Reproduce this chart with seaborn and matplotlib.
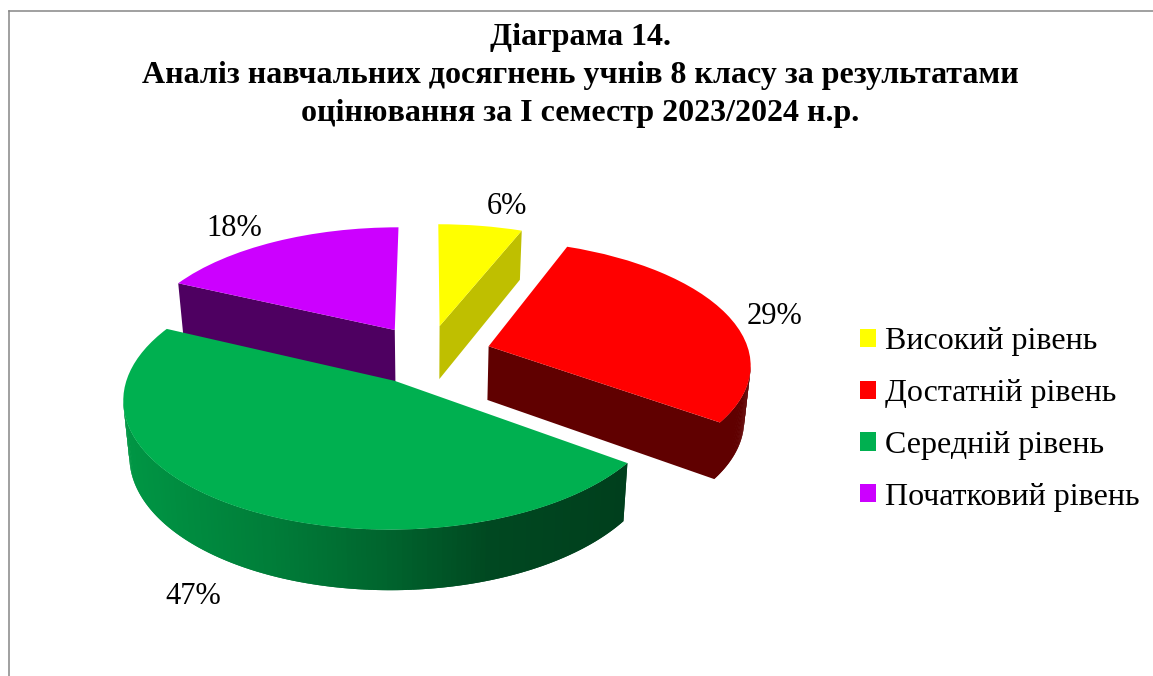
import numpy as np
import matplotlib
matplotlib.use("Agg")
import matplotlib.pyplot as plt
from matplotlib.transforms import Transform
from matplotlib.patches import Polygon
import seaborn as sns

# ---- data
categories = ["Високий рівень", "Достатній рівень", "Середній рівень", "Початковий рівень"]
values = [6, 29, 47, 18]
slice_colors = ["#FFFF00", "#FF0000", "#00B050", "#CC00FF"]
wall_factors = [0.75, 0.375, None, 0.38]
title_lines = ["Діаграма 14.",
               "Аналіз навчальних досягнень учнів 8 класу за результатами",
               "оцінювання за І семестр 2023/2024 н.р."]

# ---- style / geometry of the 3-D look
W, H = 1153, 676
CX, CY, A, B, Q = 428.0, 354.5, 261.0, 122.0, 0.13
DEPTH, SHRINK = 54.0, 0.98
EXPLODE = 0.244
GRAD_X = [128, 282, 386, 489, 620]
GRAD_F = [0.85, 0.70, 0.57, 0.41, 0.36]
LABEL_XY = [(507, 206), (775, 316), (193, 596), (234, 228)]
DRAW_ORDER = [0, 3, 1, 2]
FS = 23
FS_LABEL = 22

sns.set_theme(style="white")
plt.rcParams["font.family"] = ["Liberation Serif", "DejaVu Serif"]
palette = sns.color_palette(slice_colors)


class Perspective(Transform):
    input_dims = output_dims = 2
    is_affine = False
    has_inverse = False

    def transform_non_affine(self, values):
        xy = np.asarray(values, dtype=float)
        w = 1 + Q * xy[:, 1]
        return np.column_stack([CX + A * xy[:, 0] / w, CY - B * xy[:, 1] / w])


def project(u, v, depth=0.0):
    w = 1 + Q * v
    x = A * u / w
    if depth:
        x = x * SHRINK
    return CX + x, CY - B * v / w + depth * DEPTH / w ** (2 / 3)


def shade(i, x):
    f = wall_factors[i]
    if f is None:
        f = float(np.interp(x, GRAD_X, GRAD_F))
    return tuple(c * f for c in palette[i])


fig = plt.figure(figsize=(W / 100, H / 100), dpi=100, facecolor="white")
ax = fig.add_axes([9 / W, 0, 1 - 9 / W, 1 - 11 / H])

wedges, _ = ax.pie(values, explode=[EXPLODE] * len(values), startangle=90,
                   counterclock=False, colors=palette, radius=1.0,
                   wedgeprops={"linewidth": 0}, frame=True)

ax.set_aspect("auto")
ax.set_xlim(9, W)
ax.set_ylim(H, 11)
ax.set_xticks([])
ax.set_yticks([])
for side in ("right", "bottom"):
    ax.spines[side].set_visible(False)
for side in ("top", "left"):
    ax.spines[side].set_color("#868686")
    ax.spines[side].set_linewidth(1.1)

ax.legend(wedges, categories, loc="upper left",
          bbox_to_anchor=(852, 319.5), bbox_transform=ax.transData,
          frameon=False, prop={"size": FS}, labelcolor="black",
          handlelength=0.5, handleheight=0.5,
          handletextpad=0.28, labelspacing=0.71, borderaxespad=0, borderpad=0.25)

persp = Perspective()
for z, i in enumerate(DRAW_ORDER):
    wedge = wedges[i]
    wedge.set_transform(persp + ax.transData)
    wedge.set_zorder(10 * z + 5)

    (cu, cv), r = wedge.center, wedge.r
    th = np.radians(np.linspace(wedge.theta1, wedge.theta2, 181))
    us = np.r_[cu, cu + r * np.cos(th), cu]
    vs = np.r_[cv, cv + r * np.sin(th), cv]
    xt, yt = project(us, vs)
    xb, yb = project(us, vs, 1.0)
    n = len(us)
    for k in range(n - 1):
        dx = xt[k + 1] - xt[k]
        if dx <= 0:                     # this edge faces away from the viewer
            continue
        if k in (0, n - 2) and dx < 10:  # a radial cut seen edge-on shows no wall
            continue
        # each strip reaches one step further, the next strip paints over the overlap
        e = k + 2 if (k + 2 < n and xt[k + 2] > xt[k + 1]) else k + 1
        col = shade(i, 0.5 * (xt[k] + xt[k + 1]))
        ax.add_patch(Polygon([(xt[k], yt[k]), (xt[k + 1], yt[k + 1]), (xt[e], yt[e]),
                              (xb[e], yb[e]), (xb[k + 1], yb[k + 1]), (xb[k], yb[k])],
                             closed=True, facecolor=col, edgecolor="none",
                             linewidth=0, zorder=10 * z + 1))

for v, (x, y) in zip(values, LABEL_XY):
    ax.text(x, y, f"{v}%", ha="center", va="center", fontsize=FS_LABEL, color="black", zorder=100)

ax.set_title("\n".join(title_lines), x=(580.5 - 9) / (W - 9), y=1 - (128 - 11) / (H - 11),
             pad=0, fontsize=FS, fontweight="bold", color="black", linespacing=1.40, va="bottom")

fig.savefig("out.png", dpi=100, facecolor="white")
